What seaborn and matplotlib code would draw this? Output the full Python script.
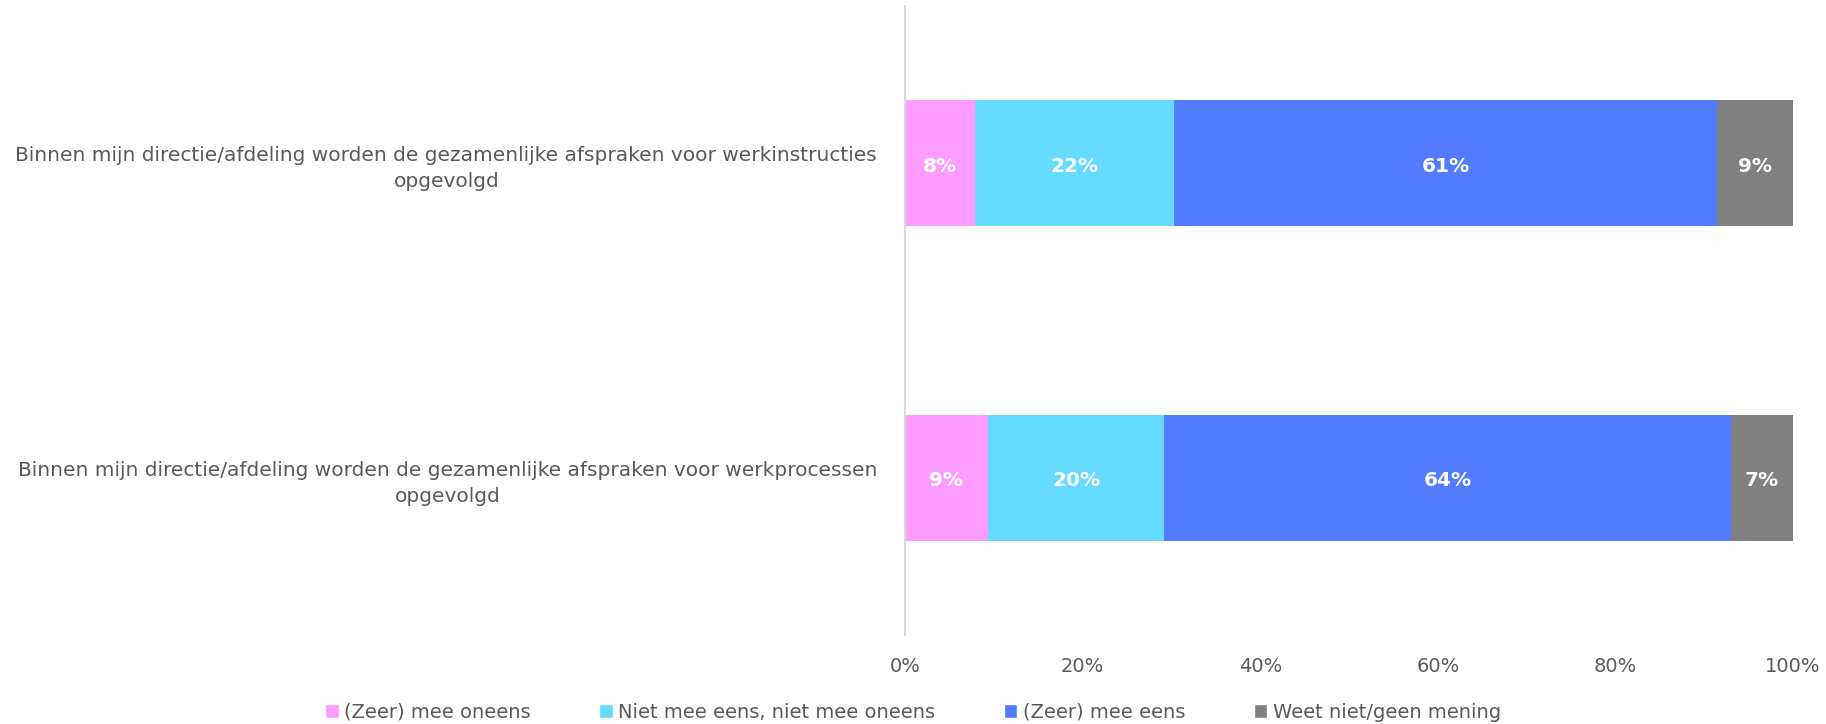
import matplotlib
matplotlib.use("Agg")
import matplotlib.pyplot as plt
from matplotlib.patches import Patch
import numpy as np
import pandas as pd
import seaborn as sns

categories = [
    "Binnen mijn directie/afdeling worden de gezamenlijke afspraken voor werkinstructies\nopgevolgd",
    "Binnen mijn directie/afdeling worden de gezamenlijke afspraken voor werkprocessen\nopgevolgd",
]
series_names = ["(Zeer) mee oneens", "Niet mee eens, niet mee oneens", "(Zeer) mee eens", "Weet niet/geen mening"]
zeer_oneens = [7.9, 9.3]
neutraal = [22.4, 19.9]
zeer_eens = [61.1, 63.8]
weet_niet = [8.6, 7.0]
colors = ["#FF9CFF", "#66DBFF", "#527BFF", "#808080"]
xticks = [0, 20, 40, 60, 80, 100]

sns.set_theme(style="white")
plt.rcParams["font.family"] = ["DejaVu Sans"]
text_color = "#595959"

fig = plt.figure(figsize=(18.26, 7.24), dpi=100)
ax = fig.add_axes([905/1826, 1-635/724, (1793-905)/1826, (635-6)/724])

vals = np.array([zeer_oneens, neutraal, zeer_eens, weet_niet])
lefts = np.vstack([np.zeros(2), np.cumsum(vals, axis=0)[:-1]])

for i, name in enumerate(series_names):
    df = pd.DataFrame({"cat": categories, "val": vals[i], "left": lefts[i]})
    sns.barplot(data=df, y="cat", x="val", left=df["left"].values, color=colors[i],
                orient="h", width=0.4, ax=ax, saturation=1, linewidth=0)
    for j in range(len(categories)):
        ax.text(lefts[i][j] + vals[i][j] / 2, j + 0.01, f"{int(vals[i][j] + 0.5)}%",
                ha="center", va="center", color="white", fontsize=14.5, fontweight="bold")

ax.set_xlim(0, 100)
ax.set_ylim(1.5, -0.5)
ax.set_xticks(xticks)
ax.set_xticklabels([f"{t}%" for t in xticks], color=text_color, fontsize=14)
ax.set_xlabel("")
ax.set_ylabel("")
for lab in ax.get_yticklabels():
    lab.set_multialignment("center")
    lab.set_linespacing(1.45)
    lab.set_color(text_color)
    lab.set_fontsize(14.5)
ax.tick_params(axis="y", length=0, pad=20)
ax.tick_params(axis="x", length=0, pad=16)
for s in ["top", "right", "bottom"]:
    ax.spines[s].set_visible(False)
ax.spines["left"].set_color("#D9D9D9")
ax.spines["left"].set_linewidth(1.5)
ax.grid(False)

handles = [Patch(facecolor=c, label=n) for c, n in zip(colors, series_names)]
fig.legend(handles=handles, loc="center", bbox_to_anchor=(0.5, 1 - 712/724), ncol=4,
           frameon=False, fontsize=14, handlelength=0.7, handleheight=0.7,
           handletextpad=0.3, columnspacing=3.5, labelcolor=text_color)

fig.savefig("out.png", dpi=100)
